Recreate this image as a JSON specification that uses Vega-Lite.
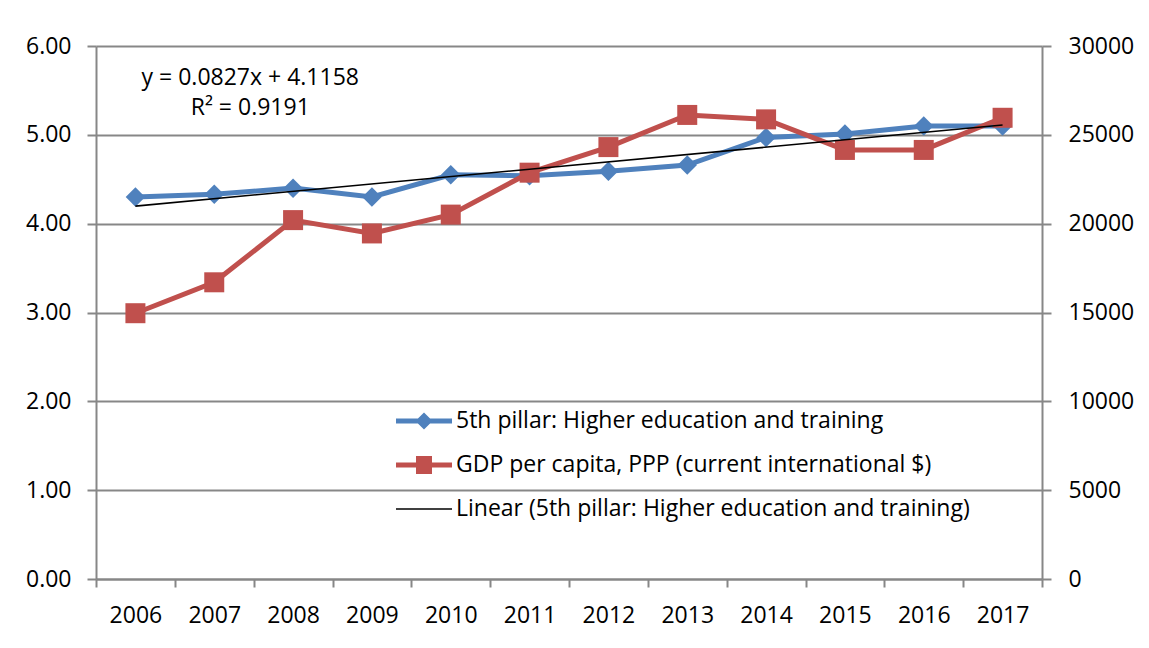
{
  "$schema": "https://vega.github.io/schema/vega-lite/v6.json",
  "width": 946,
  "height": 533,
  "autosize": {"type": "none"},
  "padding": {"left": 96, "top": 46, "right": 107, "bottom": 69},
  "background": "white",
  "config": {
    "view": {"stroke": null},
    "font": "Open Sans",
    "axis": {
      "labelFont": "Open Sans",
      "labelFontSize": 23,
      "labelColor": "#000000",
      "domainColor": "#878787",
      "domainWidth": 2,
      "tickColor": "#878787",
      "tickWidth": 2,
      "gridColor": "#878787",
      "gridWidth": 2,
      "title": null
    }
  },
  "data": {
    "values": [
      {"year": 2006, "gci": 4.30, "gdp": 14960},
      {"year": 2007, "gci": 4.33, "gdp": 16700},
      {"year": 2008, "gci": 4.40, "gdp": 20200},
      {"year": 2009, "gci": 4.30, "gdp": 19450},
      {"year": 2010, "gci": 4.55, "gdp": 20510},
      {"year": 2011, "gci": 4.54, "gdp": 22870},
      {"year": 2012, "gci": 4.59, "gdp": 24310},
      {"year": 2013, "gci": 4.66, "gdp": 26120},
      {"year": 2014, "gci": 4.97, "gdp": 25870},
      {"year": 2015, "gci": 5.01, "gdp": 24150},
      {"year": 2016, "gci": 5.10, "gdp": 24150},
      {"year": 2017, "gci": 5.10, "gdp": 25960}
    ]
  },
  "layer": [
    {
      "layer": [
        {
          "mark": {"type": "line", "strokeWidth": 5, "point": {"shape": "diamond", "filled": true, "size": 380}},
          "encoding": {
            "x": {
              "field": "year", "type": "ordinal", "bandPosition": 0.5,
              "scale": {"type": "band", "paddingInner": 0, "paddingOuter": 0},
              "axis": {"orient": "bottom", "labelAngle": 0, "tickBand": "extent", "tickSize": 8, "labelBaseline": "alphabetic", "labelPadding": 35, "grid": false}
            },
            "y": {
              "field": "gci", "type": "quantitative",
              "scale": {"domain": [0, 6], "nice": false, "zero": true},
              "axis": {"orient": "left", "values": [0, 1, 2, 3, 4, 5, 6], "format": ".2f", "grid": true, "tickSize": 9, "labelPadding": 16}
            },
            "color": {
              "datum": "5th pillar: Higher education and training",
              "scale": {
                "domain": ["5th pillar: Higher education and training", "GDP per capita, PPP (current international $)", "Linear (5th pillar: Higher education and training)"],
                "range": ["#4F81BD", "#C0504D", "#000000"]
              },
              "legend": {
                "orient": "none",
                "legendX": 308,
                "legendY": 355,
                "title": null,
                "padding": 0,
                "symbolSize": 1600,
                "symbolStrokeWidth": 0,
                "labelOffset": 12,
                "rowPadding": 12,
                "labelFont": "Open Sans",
                "labelFontSize": 23,
                "labelColor": "#000000",
                "labelLimit": 1000,
                "encode": {
                  "symbols": {
                    "update": {
                      "shape": [
                        {"test": "datum.index === 0", "value": "M-1.4,-0.125H1.4V0.125H-1.4Z M0,-0.43L0.43,0L0,0.43L-0.43,0Z"},
                        {"test": "datum.index === 1", "value": "M-1.4,-0.125H1.4V0.125H-1.4Z M-0.4,-0.45H0.4V0.45H-0.4Z"},
                        {"value": "M-1.4,-0.04H1.4V0.04H-1.4Z"}
                      ],
                      "fill": [
                        {"test": "datum.index === 0", "value": "#4F81BD"},
                        {"test": "datum.index === 1", "value": "#C0504D"},
                        {"value": "#000000"}
                      ],
                      "stroke": {"value": "transparent"},
                      "strokeWidth": {"value": 0},
                      "opacity": {"value": 1},
                      "size": {"value": 1600}
                    }
                  }
                }
              }
            }
          }
        }
      ]
    },
    {
      "layer": [
        {
          "mark": {"type": "line", "strokeWidth": 5, "point": {"shape": "square", "filled": true, "size": 400}},
          "encoding": {
            "x": {"field": "year", "type": "ordinal", "bandPosition": 0.5},
            "y": {
              "field": "gdp", "type": "quantitative",
              "scale": {"domain": [0, 30000], "nice": false},
              "axis": {"orient": "right", "values": [0, 5000, 10000, 15000, 20000, 25000, 30000], "format": "d", "grid": false, "tickSize": 9, "labelPadding": 17}
            },
            "color": {"datum": "GDP per capita, PPP (current international $)"}
          }
        }
      ]
    },
    {
      "layer": [
        {
          "transform": [{"regression": "gci", "on": "year", "method": "linear"}],
          "mark": {"type": "line", "strokeWidth": 1.6},
          "encoding": {
            "x": {"field": "year", "type": "ordinal", "bandPosition": 0.5},
            "y": {"field": "gci", "type": "quantitative", "scale": {"domain": [0, 6], "nice": false}, "axis": null},
            "color": {"datum": "Linear (5th pillar: Higher education and training)"}
          }
        },
        {
          "data": {"values": [{}]},
          "mark": {"type": "text", "text": ["y = 0.0827x + 4.1158", "R² = 0.9191"], "font": "Open Sans", "fontSize": 23, "lineHeight": 30, "align": "center", "baseline": "alphabetic", "color": "#000000", "dx": 36},
          "encoding": {
            "x": {"datum": 2007, "type": "ordinal"},
            "y": {"datum": 5.56, "type": "quantitative"}
          }
        }
      ]
    }
  ],
  "resolve": {"scale": {"y": "independent"}}
}
